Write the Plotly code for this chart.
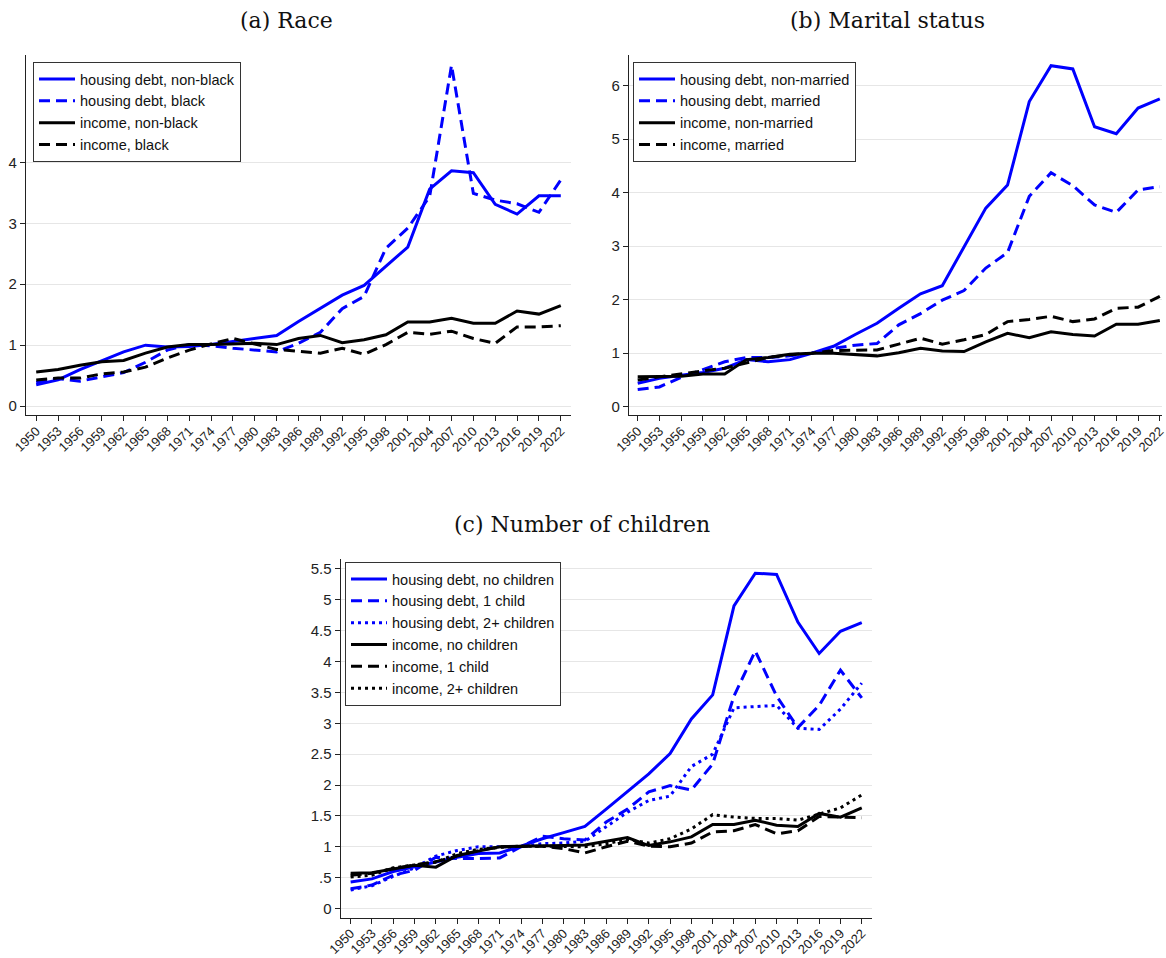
import plotly.graph_objects as go

W, H = 1166, 958

years = list(range(1950, 2023, 3))
year_labels = [str(y) for y in years]

# (a) Race
hd_nonblack = [0.35, 0.43, 0.60, 0.74, 0.89, 1.00, 0.97, 0.98, 1.01, 1.06, 1.11, 1.16, 1.39,
               1.61, 1.82, 1.98, 2.29, 2.61, 3.56, 3.86, 3.83, 3.31, 3.15, 3.45, 3.45]
hd_black = [0.39, 0.45, 0.41, 0.48, 0.55, 0.72, 0.92, 1.01, 0.99, 0.95, 0.92, 0.89, 1.03,
            1.21, 1.60, 1.80, 2.59, 2.92, 3.44, 5.59, 3.49, 3.38, 3.32, 3.18, 3.71]
inc_nonblack = [0.56, 0.60, 0.67, 0.73, 0.75, 0.87, 0.97, 1.01, 1.01, 1.02, 1.03, 1.01, 1.11,
                1.16, 1.04, 1.09, 1.17, 1.38, 1.38, 1.44, 1.36, 1.36, 1.56, 1.51, 1.65]
inc_black = [0.43, 0.46, 0.46, 0.53, 0.56, 0.64, 0.79, 0.92, 1.02, 1.11, 1.02, 0.93, 0.90,
             0.87, 0.95, 0.85, 1.01, 1.21, 1.18, 1.23, 1.11, 1.03, 1.30, 1.30, 1.32]

# (b) Marital status
hd_nonmarried = [0.44, 0.53, 0.59, 0.64, 0.72, 0.88, 0.84, 0.88, 1.00, 1.13, 1.35, 1.56, 1.84,
                 2.11, 2.26, 2.99, 3.71, 4.14, 5.70, 6.37, 6.31, 5.23, 5.10, 5.58, 5.75]
hd_married = [0.32, 0.37, 0.55, 0.69, 0.84, 0.92, 0.92, 0.95, 1.00, 1.09, 1.15, 1.18, 1.53,
              1.74, 1.99, 2.17, 2.59, 2.88, 3.93, 4.37, 4.13, 3.77, 3.63, 4.05, 4.11]
inc_nonmarried = [0.56, 0.56, 0.57, 0.61, 0.61, 0.88, 0.92, 0.98, 1.00, 1.00, 0.98, 0.95, 1.01,
                  1.09, 1.04, 1.03, 1.21, 1.37, 1.29, 1.40, 1.35, 1.32, 1.54, 1.54, 1.61]
inc_married = [0.50, 0.56, 0.62, 0.67, 0.72, 0.82, 0.92, 0.97, 1.00, 1.05, 1.06, 1.06, 1.17,
               1.28, 1.17, 1.25, 1.35, 1.59, 1.63, 1.69, 1.59, 1.64, 1.84, 1.86, 2.06]

# (c) Number of children
hd_nochild = [0.43, 0.48, 0.60, 0.68, 0.75, 0.83, 0.89, 0.90, 1.01, 1.13, 1.23, 1.33, 1.61,
              1.90, 2.18, 2.51, 3.07, 3.46, 4.90, 5.43, 5.41, 4.64, 4.13, 4.49, 4.63]
hd_1child = [0.32, 0.38, 0.54, 0.62, 0.83, 0.81, 0.81, 0.82, 1.00, 1.17, 1.13, 1.11, 1.40,
             1.61, 1.89, 1.99, 1.92, 2.34, 3.44, 4.17, 3.44, 2.93, 3.29, 3.86, 3.41]
hd_2child = [0.30, 0.37, 0.52, 0.66, 0.85, 0.94, 1.00, 1.00, 1.00, 1.05, 1.06, 1.09, 1.33,
             1.56, 1.75, 1.82, 2.30, 2.50, 3.25, 3.27, 3.29, 2.92, 2.90, 3.23, 3.65]
inc_nochild = [0.57, 0.58, 0.64, 0.70, 0.67, 0.86, 0.93, 1.00, 1.01, 1.01, 1.02, 1.03, 1.09,
               1.15, 1.02, 1.08, 1.16, 1.36, 1.36, 1.43, 1.35, 1.33, 1.54, 1.48, 1.63]
inc_1child = [0.54, 0.57, 0.65, 0.70, 0.76, 0.85, 0.94, 1.00, 1.01, 1.01, 0.97, 0.90, 1.00,
              1.09, 1.01, 1.00, 1.06, 1.24, 1.26, 1.36, 1.21, 1.26, 1.49, 1.48, 1.47]
inc_2child = [0.51, 0.54, 0.66, 0.70, 0.75, 0.89, 0.96, 0.99, 1.01, 1.01, 1.01, 1.00, 1.05,
              1.12, 1.06, 1.13, 1.29, 1.52, 1.48, 1.46, 1.46, 1.43, 1.53, 1.63, 1.84]

BLUE = "#0000ff"
BLACK = "#000000"
DASH = "11px,6px"
DOT = "3px,4px"
LW = 3

panels = [
    ("x", "y", "legend", [
        ("housing debt, non-black", hd_nonblack, BLUE, "solid"),
        ("housing debt, black", hd_black, BLUE, DASH),
        ("income, non-black", inc_nonblack, BLACK, "solid"),
        ("income, black", inc_black, BLACK, DASH),
    ]),
    ("x2", "y2", "legend2", [
        ("housing debt, non-married", hd_nonmarried, BLUE, "solid"),
        ("housing debt, married", hd_married, BLUE, DASH),
        ("income, non-married", inc_nonmarried, BLACK, "solid"),
        ("income, married", inc_married, BLACK, DASH),
    ]),
    ("x3", "y3", "legend3", [
        ("housing debt, no children", hd_nochild, BLUE, "solid"),
        ("housing debt, 1 child", hd_1child, BLUE, DASH),
        ("housing debt, 2+ children", hd_2child, BLUE, DOT),
        ("income, no children", inc_nochild, BLACK, "solid"),
        ("income, 1 child", inc_1child, BLACK, DASH),
        ("income, 2+ children", inc_2child, BLACK, DOT),
    ]),
]

fig = go.Figure()
for xa, ya, lg, series in panels:
    for name, vals, color, dash in series:
        fig.add_trace(go.Scatter(
            x=years, y=vals, name=name, mode="lines",
            line=dict(color=color, width=LW, dash=dash),
            xaxis=xa, yaxis=ya, legend=lg,
        ))


def px_x(p):
    return p / W


def px_y(p):
    return 1 - p / H


tick_font = dict(family="Liberation Sans, Arial, sans-serif", size=15, color="#222")
xlab_font = dict(family="Liberation Sans, Arial, sans-serif", size=13, color="#222")


def xaxis_cfg(left, right, rng, anchor):
    return dict(
        domain=[px_x(left), min(px_x(right), 1.0)], range=rng, anchor=anchor,
        tickmode="array", tickvals=years, ticktext=year_labels, tickangle=-45,
        ticks="outside", ticklen=5, tickwidth=1, tickcolor="#222",
        showline=True, linecolor="#222", linewidth=1.3, showgrid=False,
        zeroline=False, tickfont=xlab_font, automargin=False,
        ticklabeloverflow="allow", ticklabelstandoff=-3,
    )


def yaxis_cfg(top, bottom, rng, vals, texts, anchor):
    return dict(
        domain=[px_y(bottom), px_y(top)], range=rng, anchor=anchor,
        tickmode="array", tickvals=vals, ticktext=texts,
        ticks="outside", ticklen=5, tickwidth=1, tickcolor="#222",
        showline=True, linecolor="#222", linewidth=1.3,
        showgrid=True, gridcolor="#e6e6e6", gridwidth=1,
        zeroline=False, tickfont=tick_font, automargin=False,
    )


yt_a = [0, 1, 2, 3, 4]
yt_b = [0, 1, 2, 3, 4, 5, 6]
yt_c = [0, 0.5, 1, 1.5, 2, 2.5, 3, 3.5, 4, 4.5, 5, 5.5]
yt_c_text = ["0", ".5", "1", "1.5", "2", "2.5", "3", "3.5", "4", "4.5", "5", "5.5"]

legend_common = dict(
    xanchor="left", yanchor="top", bgcolor="white",
    bordercolor="#333", borderwidth=1,
    font=dict(family="Liberation Sans, Arial, sans-serif", size=14.5, color="#111"),
    tracegroupgap=0, itemwidth=36,
)

title_font = dict(family="DejaVu Serif, serif", size=22, color="#111")

fig.update_layout(
    width=W, height=H,
    margin=dict(l=0, r=0, t=0, b=0, autoexpand=False),
    paper_bgcolor="white", plot_bgcolor="white",
    showlegend=True,
    xaxis=xaxis_cfg(26, 571, [1948.6, 2023.4], "y"),
    yaxis=yaxis_cfg(55, 415.3, [-0.15, 5.76], yt_a, [str(v) for v in yt_a], "x"),
    xaxis2=xaxis_cfg(629, 1162, [1948.8, 2022.3], "y2"),
    yaxis2=yaxis_cfg(55, 415.3, [-0.16, 6.57], yt_b, [str(v) for v in yt_b], "x2"),
    xaxis3=xaxis_cfg(340.7, 871.7, [1948.6, 2023.4], "y3"),
    yaxis3=yaxis_cfg(559, 917.5, [-0.145, 5.66], yt_c, yt_c_text, "x3"),
    legend=dict(x=px_x(33), y=px_y(62), **legend_common),
    legend2=dict(x=px_x(633), y=px_y(62), **legend_common),
    legend3=dict(x=px_x(345), y=px_y(562), **legend_common),
    annotations=[
        dict(text="(a) Race", x=px_x(286), y=px_y(20), xref="paper", yref="paper",
             showarrow=False, font=title_font, xanchor="center", yanchor="middle"),
        dict(text="(b) Marital status", x=px_x(887), y=px_y(20), xref="paper", yref="paper",
             showarrow=False, font=title_font, xanchor="center", yanchor="middle"),
        dict(text="(c) Number of children", x=px_x(582), y=px_y(524), xref="paper", yref="paper",
             showarrow=False, font=title_font, xanchor="center", yanchor="middle"),
    ],
)

fig.write_html("out.html")
